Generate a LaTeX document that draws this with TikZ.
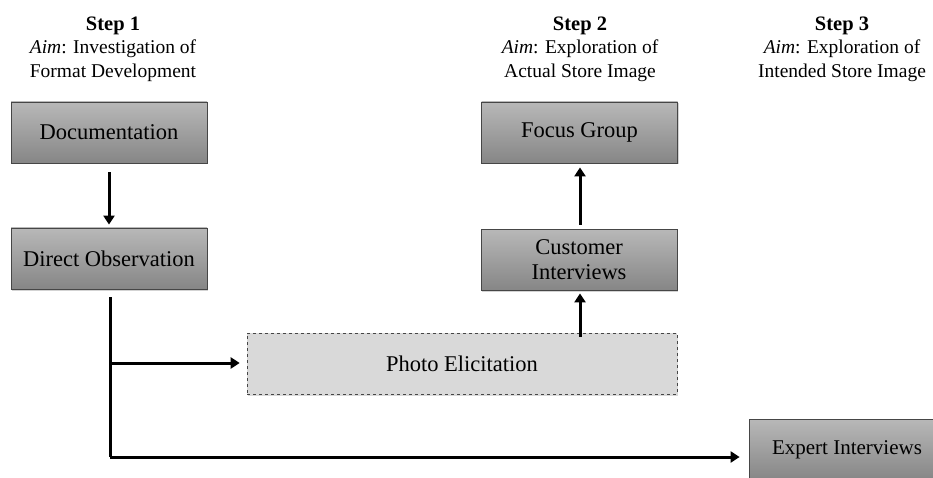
\documentclass[tikz,border=0pt]{standalone}
\usepackage{fontspec}
\setmainfont{Liberation Serif}
\usetikzlibrary{arrows.meta,shadows}

\definecolor{boxtop}{RGB}{184,184,184}
\definecolor{boxbottom}{RGB}{134,134,134}
\definecolor{boxline}{RGB}{70,70,70}
\definecolor{photofill}{RGB}{217,217,217}

\tikzset{
  method/.style={rectangle, draw=boxline, line width=0.8pt,
    top color=boxtop, bottom color=boxbottom,
    minimum width=196pt, minimum height=61pt, inner sep=2pt,
    align=center, font=\fontsize{22.5}{25.5}\selectfont,
    drop shadow={shadow xshift=1pt, shadow yshift=-1.5pt, opacity=0.35}},
  photobox/.style={rectangle, draw=boxline, dashed, line width=0.6pt,
    fill=photofill, minimum width=430pt, minimum height=61pt,
    font=\fontsize{22.5}{25.5}\selectfont,
    drop shadow={shadow xshift=1pt, shadow yshift=-1.5pt, opacity=0.3}},
  header/.style={align=center, font=\fontsize{19.5}{23.5}\selectfont},
  flow/.style={line width=3pt, -{Triangle[length=9pt,width=11pt]}},
  plainline/.style={line width=3pt}
}

\begin{document}
\begin{tikzpicture}[x=1pt,y=-1pt]
  \useasboundingbox (0,0) rectangle (933,478);

  % column headings
  \node[header] (h1) at (113,49) {\textbf{\fontsize{20.5}{23.5}\selectfont Step 1}\\\textit{Aim}: Investigation of\\Format Development};
  \node[header] (h2) at (580,49) {\textbf{\fontsize{20.5}{23.5}\selectfont Step 2}\\\textit{Aim}: Exploration of\\Actual Store Image};
  \node[header] (h3) at (842,49) {\textbf{\fontsize{20.5}{23.5}\selectfont Step 3}\\\textit{Aim}: Exploration of\\Intended Store Image};

  % methods
  \node[method] (doc) at (109,132.5) {Documentation};
  \node[method] (obs) at (109,258.5) {Direct Observation};
  \node[method] (focus) at (579.5,132.5) {Focus Group};
  \node[method] (cust) at (579,259.5) {Customer\\Interviews};
  \node[photobox] (photo) at (462,363.5) {Photo Elicitation};
  \node[method, font=\fontsize{21}{24}\selectfont] (expert) at (847,449.5) {Expert Interviews};

  % routing points
  \coordinate (split) at (110,363);
  \coordinate (corner) at (110,457);

  % connectors
  \draw[flow, shorten <=9pt, shorten >=3pt] (doc.south) -- (obs.north);
  \draw[plainline, shorten <=8pt] (obs.south -| corner) -- (corner);
  \draw[flow, shorten >=9pt] (corner) -- (corner -| expert.west);
  \draw[flow, shorten >=7pt] (split) -- (split -| photo.west);
  \draw[flow, shorten <=-4pt, shorten >=3pt] (photo.north -| 580,0) -- (cust.south -| 580,0);
  \draw[flow, shorten <=4pt, shorten >=4pt] (cust.north -| 580,0) -- (focus.south -| 580,0);
\end{tikzpicture}
\end{document}
